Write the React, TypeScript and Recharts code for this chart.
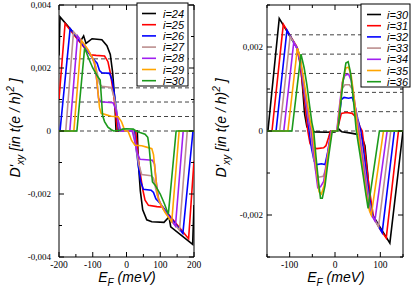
import React from "react";
import { LineChart, Line, XAxis, YAxis, ReferenceLine, ReferenceArea } from "recharts";

type Pt = [number, number];

// D'xy in units of 1e-3 t(e/h)^2, E_F in meV
// left panel, i = 24..30
const L24: Pt[] = [
  [-200, 2.4], [-197, 3.62], [-165, 3.22], [-137, 2.84], [-127, 3.02], [-120, 2.78], [-102, 2.93],
  [-73, 2.9], [-58, 2.71], [-48, 2.43], [-41, 1.85], [-35, 1.02], [-31, 0], [32, 0], [35, -1.0],
  [41, -1.9], [48, -2.5], [60, -2.82], [75, -2.88], [111, -2.9], [126, -2.73], [131, -3.04],
  [196, -3.6], [200, -2.35],
];
const L25: Pt[] = [
  [-200, 1.0], [-182, 3.41], [-150, 2.98], [-125, 2.65], [-115, 2.52], [-108, 2.42], [-90, 2.4],
  [-65, 2.38], [-55, 2.2], [-48, 1.85], [-40, 1.3], [-34, 0.8], [-30, 0.3], [-27, 0], [27, 0],
  [30, -0.3], [34, -0.8], [40, -1.3], [48, -1.85], [55, -2.2], [65, -2.36], [90, -2.4],
  [108, -2.42], [115, -2.52], [125, -2.65], [150, -2.98], [184, -3.42], [200, -0.95],
];
const L26: Pt[] = [
  [-200, 0], [-197, 0], [-167, 3.25], [-140, 2.88], [-120, 2.6], [-100, 2.3], [-87, 2.15],
  [-80, 1.92], [-73, 1.85], [-50, 1.83], [-42, 1.6], [-35, 1.1], [-28, 0.5], [-23, 0], [23, 0],
  [28, -0.5], [35, -1.1], [42, -1.6], [50, -1.85], [73, -1.88], [80, -1.95], [87, -2.15],
  [100, -2.3], [120, -2.6], [140, -2.88], [167, -3.25], [197, 0], [200, 0],
];
const L27: Pt[] = [
  [-200, 0], [-180, 0], [-157, 3.15], [-130, 2.8], [-110, 2.5], [-95, 2.2], [-87, 1.85],
  [-80, 1.5], [-73, 1.42], [-45, 1.38], [-36, 1.05], [-27, 0.45], [-20, 0], [20, 0],
  [27, -0.45], [36, -1.05], [45, -1.38], [73, -1.42], [80, -1.5], [87, -1.85], [95, -2.2],
  [110, -2.5], [130, -2.8], [157, -3.15], [180, 0], [200, 0],
];
const L28: Pt[] = [
  [-200, 0], [-168, 0], [-145, 3.02], [-125, 2.72], [-105, 2.4], [-95, 2.15], [-88, 1.6],
  [-83, 1.05], [-77, 0.93], [-40, 0.9], [-32, 0.7], [-25, 0.35], [-17, 0], [17, 0],
  [25, -0.35], [32, -0.7], [40, -0.9], [77, -0.93], [83, -1.05], [88, -1.6], [95, -2.15],
  [105, -2.4], [125, -2.72], [145, -3.02], [168, 0], [200, 0],
];
const L29: Pt[] = [
  [-200, 0], [-156, 0], [-134, 2.88], [-115, 2.6], [-100, 2.3], [-92, 2.05], [-86, 1.4],
  [-80, 0.75], [-75, 0.56], [-62, 0.52], [-45, 0.47], [-25, 0.45], [-15, 0.3], [-8, 0.1],
  [-4, 0], [4, 0], [8, -0.1], [15, -0.3], [25, -0.45], [45, -0.47], [62, -0.52], [75, -0.56],
  [80, -0.75], [86, -1.4], [92, -2.05], [100, -2.3], [115, -2.6], [134, -2.88], [156, 0], [200, 0],
];
const L30: Pt[] = [
  [-200, 0], [-147, 0], [-124, 2.64], [-112, 2.3], [-100, 2.0], [-85, 1.72], [-78, 1.62],
  [-74, 1.0], [-71, 0.5], [-65, 0.3], [-55, 0.12], [-45, 0.04], [-38, 0], [-20, 0.02],
  [-12, 0.06], [0, 0.07], [20, 0.06], [28, 0], [40, -0.05], [55, -0.1], [63, -0.2], [67, -0.5],
  [72, -1.1], [77, -1.62], [85, -1.72], [100, -2.0], [112, -2.3], [124, -2.64], [147, 0], [200, 0],
];

// right panel, i = 30..36
const R30: Pt[] = [
  [-150, 0], [-148, 0], [-123, 2.68], [-99, 2.25], [-83, 1.97], [-77, 1.75], [-72, 1.1],
  [-67, 0.4], [-62, 0.1], [-55, 0.03], [-45, -0.02], [-20, -0.03], [0, -0.02], [8, 0.05],
  [15, -0.02], [35, -0.05], [50, -0.08], [58, -0.1], [66, -0.35], [72, -1.0], [77, -1.7],
  [82, -1.98], [100, -2.3], [121, -2.67], [150, 0],
];
const R31: Pt[] = [
  [-150, 0], [-139, 0], [-114, 2.54], [-99, 2.27], [-85, 2.02], [-78, 1.65], [-72, 1.15],
  [-66, 0.6], [-60, 0], [-55, -0.3], [-48, -0.4], [-40, -0.42], [-25, -0.4], [-20, -0.35],
  [-14, -0.15], [-10, 0], [5, 0], [9, 0.2], [14, 0.42], [25, 0.44], [38, 0.42], [44, 0.35],
  [50, 0.25], [55, 0.1], [60, 0], [66, -0.5], [72, -1.05], [78, -1.55], [85, -2.05],
  [100, -2.35], [113, -2.55], [140, 0], [150, 0],
];
const R32: Pt[] = [
  [-150, 0], [-130, 0], [-106, 2.4], [-92, 2.13], [-84, 1.98], [-76, 1.6], [-70, 1.1],
  [-63, 0.55], [-57, 0], [-52, -0.4], [-46, -0.72], [-40, -0.8], [-30, -0.78], [-22, -0.8],
  [-16, -0.5], [-10, -0.1], [-8, 0], [5, 0], [9, 0.3], [14, 0.75], [20, 0.8], [30, 0.78],
  [38, 0.8], [44, 0.6], [50, 0.3], [57, 0], [64, -0.55], [70, -1.1], [76, -1.6], [83, -2.02],
  [104, -2.42], [131, 0], [150, 0],
];
const R33: Pt[] = [
  [-150, 0], [-122, 0], [-99, 2.25], [-88, 2.07], [-80, 1.85], [-73, 1.4], [-66, 0.85],
  [-59, 0.3], [-54, 0], [-48, -0.55], [-42, -1.0], [-36, -1.1], [-26, -1.08], [-20, -0.9],
  [-14, -0.45], [-8, 0], [4, 0], [10, 0.5], [15, 1.0], [22, 1.1], [32, 1.1], [38, 1.0],
  [44, 0.6], [50, 0.25], [54, 0], [61, -0.55], [68, -1.1], [74, -1.6], [81, -2.0],
  [96, -2.28], [123, 0], [150, 0],
];
const R34: Pt[] = [
  [-150, 0], [-113, 0], [-91, 2.11], [-83, 1.95], [-76, 1.65], [-69, 1.15], [-62, 0.6],
  [-56, 0.15], [-52, 0], [-46, -0.6], [-41, -1.1], [-38, -1.35], [-32, -1.33], [-25, -1.2],
  [-17, -0.6], [-8, 0], [4, 0], [10, 0.6], [16, 1.15], [22, 1.33], [30, 1.35], [36, 1.2],
  [42, 0.8], [48, 0.3], [52, 0], [59, -0.55], [66, -1.1], [72, -1.6], [79, -1.97],
  [88, -2.14], [115, 0], [150, 0],
];
const R35: Pt[] = [
  [-150, 0], [-104, 0], [-83, 1.97], [-77, 1.75], [-70, 1.3], [-63, 0.8], [-56, 0.3],
  [-50, 0], [-44, -0.6], [-39, -1.1], [-35, -1.45], [-30, -1.5], [-24, -1.3], [-16, -0.6],
  [-7, 0], [5, 0], [11, 0.6], [17, 1.2], [24, 1.5], [30, 1.52], [36, 1.3], [42, 0.8],
  [47, 0.3], [50, 0], [57, -0.55], [64, -1.1], [70, -1.55], [76, -1.9], [80, -2.0],
  [107, 0], [150, 0],
];
const R36: Pt[] = [
  [-150, 0], [-95, 0], [-75, 1.83], [-68, 1.5], [-62, 1.1], [-56, 0.6], [-51, 0.2], [-47, 0],
  [-42, -0.6], [-37, -1.15], [-32, -1.6], [-28, -1.6], [-22, -1.3], [-14, -0.6], [-6, 0],
  [6, 0], [12, 0.6], [18, 1.2], [24, 1.62], [29, 1.65], [34, 1.4], [40, 0.8], [44, 0.35],
  [47, 0], [55, -0.55], [62, -1.05], [68, -1.5], [73, -1.84], [98, 0], [150, 0],
];

const LEFT_NAMES = ["i=24", "i=25", "i=26", "i=27", "i=28", "i=29", "i=30"];
const RIGHT_NAMES = ["i=30", "i=31", "i=32", "i=33", "i=34", "i=35", "i=36"];
const COLORS = ["#000000", "#ff0000", "#0000ff", "#bc8f8f", "#a020f0", "#ffa500", "#1c9a1c"];
const STEPS = [0, 0.46, 0.92, 1.37, 1.83, 2.29];

const LEFT_XTICKS = [-200, -150, -100, -50, 0, 50, 100, 150, 200];
const LEFT_YTICKS = [-4, -3, -2, -1, 0, 1, 2, 3, 4];
const RIGHT_XTICKS = [-150, -100, -50, 0, 50, 100, 150];
const RIGHT_YTICKS = [-3, -2, -1, 0, 1, 2, 3];

const SERIF = "'Liberation Serif', 'DejaVu Serif', serif";
const SANS = "'Liberation Sans', Arial, sans-serif";
const H = 289;

type Box = { left: number; right: number; top: number; bottom: number };

function fmtY(v: number): string {
  if (v === 0) return "0";
  return (v / 1000).toFixed(3).replace(".", ",");
}

function toRows(pts: Pt[]) {
  return pts.map(([e, d]) => ({ e, d }));
}

interface PanelProps {
  width: number;
  box: Box;
  xDomain: [number, number];
  yDomain: [number, number];
  xTicks: number[];
  yTicks: number[];
  series: Pt[][];
  labelEnd: number;
}

function Panel({ width, box, xDomain, yDomain, xTicks, yTicks, series, labelEnd }: PanelProps) {
  const xTick = (props: any) => {
    const { x, payload } = props;
    const v = payload.value as number;
    const major = Math.abs(v) % 100 === 0;
    const len = major ? 5 : 3;
    return (
      <g>
        <line x1={x} x2={x} y1={box.bottom} y2={box.bottom - len} stroke="#000" />
        <line x1={x} x2={x} y1={box.top} y2={box.top + len} stroke="#000" />
        {major && (
          <text x={x} y={box.bottom + 11} textAnchor="middle" fontSize={9.5} fontFamily={SERIF} fill="#000">
            {v}
          </text>
        )}
      </g>
    );
  };
  const yTick = (props: any) => {
    const { y, payload } = props;
    const v = payload.value as number;
    const major = Math.abs(v) % 2 === 0;
    const len = major ? 5 : 3;
    return (
      <g>
        <line x1={box.left} x2={box.left + len} y1={y} y2={y} stroke="#000" />
        <line x1={box.right} x2={box.right - len} y1={y} y2={y} stroke="#000" />
        {major && (
          <text x={labelEnd} y={y + 3} textAnchor="end" fontSize={9} fontFamily={SERIF} fill="#000">
            {fmtY(v)}
          </text>
        )}
      </g>
    );
  };
  return (
    <LineChart
      width={width}
      height={H}
      margin={{ top: box.top, right: width - box.right, bottom: 0, left: 0 }}
    >
      <XAxis
        dataKey="e"
        type="number"
        domain={xDomain}
        ticks={xTicks}
        interval={0}
        allowDataOverflow
        axisLine={false}
        tickLine={false}
        height={H - box.bottom}
        tick={xTick}
      />
      <YAxis
        type="number"
        domain={yDomain}
        ticks={yTicks}
        interval={0}
        allowDataOverflow
        axisLine={false}
        tickLine={false}
        width={box.left}
        tick={yTick}
      />
      {STEPS.map((s) => (
        <ReferenceLine key={s} y={s} stroke="#444" strokeDasharray="4 3" strokeWidth={1} />
      ))}
      {series.map((pts, i) => (
        <Line
          key={i}
          data={toRows(pts)}
          dataKey="d"
          type="linear"
          stroke={COLORS[i]}
          strokeWidth={1.6}
          dot={false}
          isAnimationActive={false}
        />
      ))}
      <ReferenceArea
        x1={xDomain[0]}
        x2={xDomain[1]}
        y1={yDomain[0]}
        y2={yDomain[1]}
        fill="none"
        stroke="#000"
        strokeWidth={1}
        ifOverflow="visible"
      />
    </LineChart>
  );
}

function LegendBox({ x, y, w, h, lineX, textX, names }: {
  x: number; y: number; w: number; h: number; lineX: [number, number]; textX: number; names: string[];
}) {
  return (
    <g>
      <rect x={x} y={y} width={w} height={h} fill="#fff" stroke="#000" strokeWidth={1} />
      {names.map((n, i) => {
        const cy = y + 10.5 + i * 11.2;
        return (
          <g key={n}>
            <line x1={lineX[0]} x2={lineX[1]} y1={cy} y2={cy} stroke={COLORS[i]} strokeWidth={1.6} />
            <text x={textX} y={cy + 4} fontSize={11} fontStyle="italic" fontFamily={SANS} fill="#000">
              {n}
            </text>
          </g>
        );
      })}
    </g>
  );
}

function YTitle({ x }: { x: number }) {
  return (
    <text
      transform={`translate(${x},128) rotate(-90)`}
      textAnchor="middle"
      fontSize={14}
      fontStyle="italic"
      fontFamily={SANS}
      fill="#000"
    >
      D'
      <tspan dy={4} fontSize={10}>xy</tspan>
      <tspan dy={-4}> [in t(e / h)</tspan>
      <tspan dy={-6} fontSize={10}>2</tspan>
      <tspan dy={6}> ]</tspan>
    </text>
  );
}

function XTitle({ x }: { x: number }) {
  return (
    <text x={x} y={282} textAnchor="middle" fontSize={14} fontStyle="italic" fontFamily={SANS} fill="#000">
      E
      <tspan dy={4} fontSize={10}>F</tspan>
      <tspan dy={-4}> (meV)</tspan>
    </text>
  );
}

export default function App() {
  return (
    <div style={{ position: "absolute", left: 0, top: 0, width: 411, height: H, background: "#fff" }}>
      <div style={{ position: "absolute", left: 0, top: 0 }}>
        <Panel
          width={205}
          box={{ left: 59, right: 194, top: 5, bottom: 257 }}
          xDomain={[-200, 200]}
          yDomain={[-4, 4]}
          xTicks={LEFT_XTICKS}
          yTicks={LEFT_YTICKS}
          series={[L24, L25, L26, L27, L28, L29, L30]}
          labelEnd={51}
        />
      </div>
      <div style={{ position: "absolute", left: 205, top: 0 }}>
        <Panel
          width={206}
          box={{ left: 62, right: 198, top: 5, bottom: 257 }}
          xDomain={[-150, 150]}
          yDomain={[-3, 3]}
          xTicks={RIGHT_XTICKS}
          yTicks={RIGHT_YTICKS}
          series={[R30, R31, R32, R33, R34, R35, R36]}
          labelEnd={58}
        />
      </div>
      <svg
        width={411}
        height={H}
        style={{ position: "absolute", left: 0, top: 0, pointerEvents: "none" }}
      >
        <LegendBox x={137} y={3} w={51} h={83} lineX={[142, 156]} textX={163} names={LEFT_NAMES} />
        <LegendBox x={361} y={4} w={49} h={83} lineX={[367, 381]} textX={387} names={RIGHT_NAMES} />
        <YTitle x={20} />
        <YTitle x={226} />
        <XTitle x={127} />
        <XTitle x={336} />
      </svg>
    </div>
  );
}
